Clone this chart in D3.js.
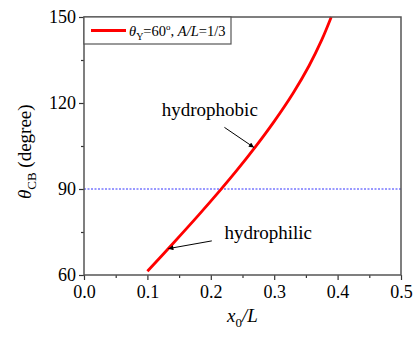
<!DOCTYPE html>
<html>
<head>
<style>
  body { margin: 0; background: #fff; }
  svg { font-family: "Liberation Serif", "Times New Roman", serif; }
</style>
</head>
<body>
<svg id="chart" width="413" height="340"></svg>
<script src="https://d3js.org/d3.v7.min.js"></script>
<script>
// curve values: x0/L vs theta_CB
var xVals = [0.10, 0.14, 0.18, 0.215, 0.24, 0.27, 0.30, 0.33, 0.355, 0.375, 0.39];
var thetaVals = [61.3, 70.9, 80.7, 89.6, 96.2, 104.6, 113.6, 123.5, 133, 142, 150];
var refLine = 90;
var xTicks = [0, 0.1, 0.2, 0.3, 0.4, 0.5];
var yTicks = [60, 90, 120, 150];

var svg = d3.select("#chart"),
    width = +svg.attr("width"),
    height = +svg.attr("height");
var margin = {top: 17, right: 12, bottom: 65, left: 84};
var w = width - margin.left - margin.right,
    h = height - margin.top - margin.bottom;

var x = d3.scaleLinear().domain([0, 0.5]).range([margin.left, margin.left + w]);
var y = d3.scaleLinear().domain([60, 150]).range([margin.top + h, margin.top]);

// minor ticks
var xAxisMinor = d3.axisBottom(x).tickValues(d3.range(0.05, 0.5, 0.1)).tickSize(3).tickFormat("");
var yAxisMinor = d3.axisLeft(y).tickValues([75, 105, 135]).tickSize(3).tickFormat("");
svg.append("g").attr("transform", "translate(0," + (margin.top + h) + ")").call(xAxisMinor);
svg.append("g").attr("transform", "translate(" + margin.left + ",0)").call(yAxisMinor);

var xAxis = d3.axisBottom(x).tickValues(xTicks).tickSize(5).tickPadding(5).tickFormat(d3.format(".1f"));
var yAxis = d3.axisLeft(y).tickValues(yTicks).tickSize(5).tickPadding(3).tickFormat(d3.format("d"));
var gx = svg.append("g").attr("transform", "translate(0," + (margin.top + h) + ")").call(xAxis);
var gy = svg.append("g").attr("transform", "translate(" + margin.left + ",0)").call(yAxis);

svg.selectAll(".domain").remove();
svg.selectAll("g").attr("font-family", null);
svg.selectAll(".tick line").attr("stroke", "#333").attr("stroke-width", 1.2);
svg.selectAll(".tick text").attr("font-family", "Liberation Serif").attr("font-size", "18px").attr("fill", "#000");
gy.selectAll(".tick text").attr("dy", "0.33em");

// reference line
svg.append("line")
    .attr("x1", x(0)).attr("x2", x(0.5))
    .attr("y1", y(refLine)).attr("y2", y(refLine))
    .attr("stroke", "#3333ff")
    .attr("stroke-width", 1)
    .attr("stroke-dasharray", "2,1.5");

// curve
var pts = xVals.map(function(d, i) { return [d, thetaVals[i]]; });
svg.append("path")
    .datum(pts)
    .attr("fill", "none")
    .attr("stroke", "#ff0000")
    .attr("stroke-width", 2.8)
    .attr("d", d3.line()
        .x(function(d) { return x(d[0]); })
        .y(function(d) { return y(d[1]); })
        .curve(d3.curveCatmullRom));

// frame
svg.append("rect")
    .attr("x", margin.left).attr("y", margin.top)
    .attr("width", w).attr("height", h)
    .attr("fill", "none")
    .attr("stroke", "#555")
    .attr("stroke-width", 1.5);

// arrowhead
svg.append("defs").append("marker")
    .attr("id", "arr")
    .attr("viewBox", "0 0 10 10")
    .attr("refX", 10).attr("refY", 5)
    .attr("markerWidth", 7).attr("markerHeight", 5)
    .attr("markerUnits", "userSpaceOnUse")
    .attr("orient", "auto")
  .append("path")
    .attr("d", "M0,0 L10,5 L0,10 Z")
    .attr("fill", "#000");

// annotations
var notes = [
  {label: "hydrophobic", tx: 0.1227, ty: 115.5, x1: 0.2215, y1: 111.5, x2: 0.268, y2: 104.5},
  {label: "hydrophilic", tx: 0.2215, ty: 72.5, x1: 0.2016, y1: 71.9, x2: 0.1331, y2: 69.2}
];
notes.forEach(function(n) {
  svg.append("text")
      .attr("x", x(n.tx)).attr("y", y(n.ty))
      .attr("font-size", "19px")
      .text(n.label);
  svg.append("line")
      .attr("x1", x(n.x1)).attr("y1", y(n.y1))
      .attr("x2", x(n.x2)).attr("y2", y(n.y2))
      .attr("stroke", "#000")
      .attr("stroke-width", 1)
      .attr("marker-end", "url(#arr)");
});

// legend
var lg = svg.append("g");
lg.append("rect")
    .attr("x", margin.left).attr("y", margin.top)
    .attr("width", 147).attr("height", 27)
    .attr("fill", "#fff")
    .attr("stroke", "#555")
    .attr("stroke-width", 1.2);
lg.append("line")
    .attr("x1", 91).attr("x2", 126)
    .attr("y1", 30.5).attr("y2", 30.5)
    .attr("stroke", "#ff0000")
    .attr("stroke-width", 2.8);
var lt = lg.append("text").attr("x", 129).attr("y", 36).attr("font-size", "14.5px");
lt.append("tspan").attr("font-style", "italic").text("θ");
lt.append("tspan").attr("font-size", "10px").attr("dy", 4).text("Y");
lt.append("tspan").attr("dy", -4).text("=60");
lt.append("tspan").attr("font-size", "9px").attr("dy", -6).text("o");
lt.append("tspan").attr("dy", 6).text(", ");
lt.append("tspan").attr("font-style", "italic").text("A/L");
lt.append("tspan").text("=1/3");

// axis titles
var xt = svg.append("text")
    .attr("x", x(0.25)).attr("y", 322)
    .attr("text-anchor", "middle")
    .attr("font-size", "19px");
xt.append("tspan").attr("font-style", "italic").text("x");
xt.append("tspan").attr("font-size", "13px").attr("dy", 5).text("0");
xt.append("tspan").attr("font-style", "italic").attr("dy", -5).text("/L");

var yt = svg.append("text")
    .attr("transform", "translate(31," + y(103) + ") rotate(-90)")
    .attr("text-anchor", "middle")
    .attr("font-size", "19px");
yt.append("tspan").attr("font-style", "italic").text("θ");
yt.append("tspan").attr("font-size", "13px").attr("dy", 5).text("CB");
yt.append("tspan").attr("dy", -5).text(" (degree)");
</script>
</body>
</html>
